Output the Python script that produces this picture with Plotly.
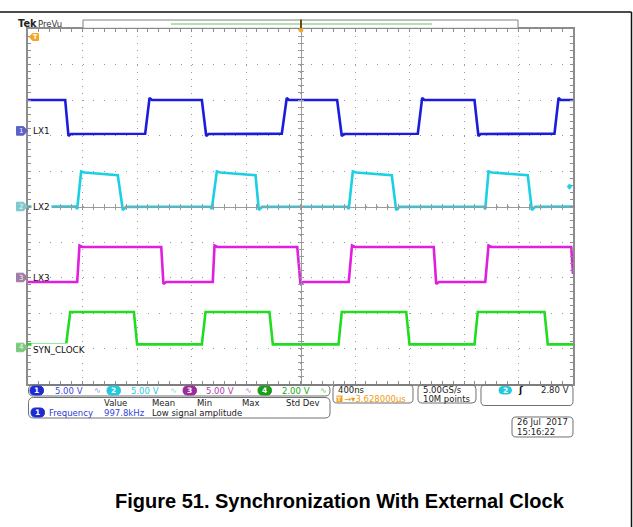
import plotly.graph_objects as go

# ---------------- waveform data ----------------
# time: microseconds relative to the screen centre (400 ns/div, 10 div)
# values: volts at each channel's probe
lx1_t = [-2.000, -1.727, -1.703, -1.685, -1.140, -1.108, -1.090,
         -0.724, -0.692, -0.675, -0.137, -0.101, -0.085,
          0.269,  0.303,  0.320,  0.861,  0.893,  0.910,
          1.277,  1.306,  1.322,  1.864,  1.894,  1.910, 2.000]
lx1_v = [4.35, 4.35, -0.72, -0.44, -0.40, 4.63, 4.35,
         4.35, -0.72, -0.44, -0.40, 4.63, 4.35,
         4.35, -0.72, -0.44, -0.40, 4.63, 4.35,
         4.35, -0.72, -0.44, -0.40, 4.63, 4.35, 4.35]

lx2_t = [-2.000, -1.650, -1.639, -1.610, -1.585, -1.341, -1.304, -1.280,
         -0.662, -0.651, -0.614, -0.589, -0.330, -0.306, -0.282,
          0.343,  0.354,  0.384,  0.409,  0.670,  0.702,  0.726,
          1.345,  1.356,  1.380,  1.405,  1.668,  1.698,  1.722, 2.000]
lx2_v = [0.00, 0.00, -0.35, 4.93, 4.79, 4.40, -0.49, -0.05,
         0.00, -0.35, 4.93, 4.79, 4.40, -0.49, -0.05,
         0.00, -0.35, 4.93, 4.79, 4.40, -0.49, -0.05,
         0.00, -0.35, 4.93, 4.79, 4.40, -0.49, -0.05, 0.00]

lx3_t = [-2.000, -1.639, -1.622, -1.600, -1.022, -1.006, -0.985,
         -0.644, -0.631, -0.610, -0.024,  0.000,  0.020,
          0.354,  0.378,  0.400,  0.978,  0.996,  1.017,
          1.356,  1.380,  1.402,  1.987,  2.000]
lx3_v = [-0.63, -0.63, 4.51, 4.30, 4.30, -0.92, -0.63,
         -0.63, 4.51, 4.30, 4.30, -0.92, -0.63,
         -0.63, 4.51, 4.30, 4.30, -0.92, -0.63,
         -0.63, 4.51, 4.30, 4.30, 0.50]

syn_t = [-2.000, -1.720, -1.690, -1.223, -1.199,
         -0.724, -0.697, -0.228, -0.203,
          0.279,  0.303,  0.776,  0.800,
          1.277,  1.301,  1.791,  1.815, 2.000]
syn_v = [0.17, 0.17, 2.00, 2.00, 0.17,
         0.17, 2.00, 2.00, 0.17,
         0.17, 2.00, 2.00, 0.17,
         0.17, 2.00, 2.00, 0.17, 0.17]

# channel settings
ch_names = ["LX1", "LX2", "LX3", "SYN_CLOCK"]
ch_volts_per_div = [5.0, 5.0, 5.0, 2.0]
ch_position_div = [2.13, 0.0, -2.0, -3.97]
ch_scale_text = ["5.00 V", "5.00 V", "5.00 V", "2.00 V"]
trigger_channel = 2
trigger_level_v = 2.80
time_per_div = "400ns"
trigger_delay = "3.628000µs"
sample_rate = "5.00GS/s"
record_length = "10M points"
meas_headers = ["Value", "Mean", "Min", "Max", "Std Dev"]
meas_name = "Frequency"
meas_value = "997.8kHz"
meas_note = "Low signal amplitude"
date_text = "26 Jul\u00a0 2017"
time_text = "15:16:22"
caption = "Figure 51. Synchronization With External Clock"

# ---------------- styling / geometry ----------------
W, H = 633, 527
GX0, GX1, GY0, GY1 = 28, 573, 29, 384
trace_colors = ["#1c1cdc", "#1ccfe2", "#e01ee0", "#22dc22"]
tag_colors = ["#5b63c8", "#7dc9cc", "#a27ca6", "#7ccb7c"]
pill_colors = ["#1c2bd0", "#22c8dc", "#9c2c9c", "#1c9c1c"]
text_colors = ["#3b48e0", "#2cc8dc", "#b03cb4", "#22a622"]
icon_colors = ["#7b8be0", "#7dd8e4", "#c47cc8", "#66c466"]
frame_col = "#8c8c8c"
grid_col = "#9a9a9a"
FONT = "DejaVu Sans"


def fx(x):
    return x / W


def fy(y):
    return 1 - y / H


def dpx(d):
    return GY0 + (5 - d) / 10 * (GY1 - GY0)


def pth(points):
    s = "M" + " L".join(f"{fx(x):.5f},{fy(y):.5f}" for x, y in points) + " Z"
    return s


def rr(x0, y0, x1, y1, r):
    def p(x, y):
        return f"{fx(x):.5f},{fy(y):.5f}"
    return (f"M{p(x0 + r, y0)} L{p(x1 - r, y0)} Q{p(x1, y0)} {p(x1, y0 + r)} "
            f"L{p(x1, y1 - r)} Q{p(x1, y1)} {p(x1 - r, y1)} L{p(x0 + r, y1)} "
            f"Q{p(x0, y1)} {p(x0, y1 - r)} L{p(x0, y0 + r)} Q{p(x0, y0)} {p(x0 + r, y0)} Z")


shapes = []
annotations = []


def T(x, y, s, color="#222", size=8.5, anchor="left", family=FONT, bg=None, pad=0):
    d = dict(x=fx(x), y=fy(y), xref="paper", yref="paper", text=s, showarrow=False,
             xanchor=anchor, yanchor="middle", font=dict(family=family, size=size, color=color),
             borderpad=pad)
    if bg:
        d["bgcolor"] = bg
    annotations.append(d)


def box(x0, y0, x1, y1, r=4, color="#707070"):
    shapes.append(dict(type="path", xref="paper", yref="paper", path=rr(x0, y0, x1, y1, r),
                       line=dict(color=color, width=1), layer="above"))


def pill(x0, y0, x1, y1, color, label):
    shapes.append(dict(type="path", xref="paper", yref="paper",
                       path=rr(x0, y0, x1, y1, (y1 - y0) / 2),
                       line=dict(color=color, width=1), fillcolor=color, layer="above"))
    T((x0 + x1) / 2, (y0 + y1) / 2, f"<b>{label}</b>", "white", 7.5, "center")


fig = go.Figure()
series = [(lx1_t, lx1_v), (lx2_t, lx2_v), (lx3_t, lx3_v), (syn_t, syn_v)]
for i, (t, v) in enumerate(series):
    fig.add_trace(go.Scatter(
        x=t, y=[ch_position_div[i] + vv / ch_volts_per_div[i] for vv in v],
        mode="lines", line=dict(color=trace_colors[i], width=2.6),
        hoverinfo="skip", showlegend=False))

# helper empty traces so the centre-crosshair overlay axes get drawn
for xa, ya in [("x3", "y"), ("x4", "y"), ("x", "y3"), ("x", "y4")]:
    fig.add_trace(go.Scatter(x=[], y=[], xaxis=xa, yaxis=ya, showlegend=False, hoverinfo="skip"))

# ---- channel tags and labels ----
for i, name in enumerate(ch_names):
    c = dpx(ch_position_div[i])
    shapes.append(dict(type="path", xref="paper", yref="paper",
                       path=pth([(16.5, c - 4.3), (23.5, c - 4.3), (27.5, c), (23.5, c + 4.3), (16.5, c + 4.3)]),
                       fillcolor=tag_colors[i], line=dict(color=tag_colors[i], width=1), layer="above"))
    T(21, c, str(i + 1), "#f4f4ff", 7, "center")
    bg = "white" if name in ("LX2", "SYN_CLOCK") else None
    annotations.append(dict(x=fx(31), y=ch_position_div[i], xref="paper", yref="y", text=name,
                            showarrow=False, xanchor="left", yanchor="middle",
                            yshift=-2.5 if name == "SYN_CLOCK" else 0,
                            font=dict(family=FONT, size=8.8, color="#111"),
                            bgcolor=bg, borderpad=1))

# trigger level marker on right edge
tc = dpx(ch_position_div[trigger_channel - 1] + trigger_level_v / ch_volts_per_div[trigger_channel - 1])
shapes.append(dict(type="path", xref="paper", yref="paper",
                   path=pth([(567.3, tc), (569.5, tc - 2.6), (571.7, tc), (569.5, tc + 2.6)]),
                   fillcolor=trace_colors[1], line=dict(color=trace_colors[1], width=1), layer="above"))

# orange trigger-position tag (top left)
shapes.append(dict(type="path", xref="paper", yref="paper",
                   path=pth([(29.5, 37), (32.5, 33.5), (38.5, 33.5), (38.5, 40.5), (32.5, 40.5)]),
                   fillcolor="#f5a524", line=dict(color="#f5a524", width=1), layer="above"))
T(35.3, 37, "<b>T</b>", "white", 6.5, "center")

# ---- top: Tek PreVu and record bar ----
T(16.5, 24, "<b>Tek</b>", "#222", 9.8)
T(37, 24.3, "PreVu", "#333", 8.5)
shapes.append(dict(type="rect", xref="paper", yref="paper", x0=fx(83), x1=fx(518), y0=fy(20), y1=fy(28.3),
                   line=dict(color="#808080", width=1), fillcolor="white", layer="above"))
shapes.append(dict(type="line", xref="paper", yref="paper", x0=fx(171), x1=fx(432), y0=fy(24), y1=fy(24),
                   line=dict(color="#96d896", width=1.6), layer="above"))
shapes.append(dict(type="line", xref="paper", yref="paper", x0=fx(301), x1=fx(301), y0=fy(19.5), y1=fy(28.5),
                   line=dict(color="#6b4a1a", width=2), layer="above"))
shapes.append(dict(type="circle", xref="paper", yref="paper", x0=fx(298.7), x1=fx(303.3), y0=fy(28), y1=fy(32.6),
                   fillcolor="#f5a524", line=dict(color="#f5a524", width=0), layer="above"))

# outer document frame
shapes.append(dict(type="line", xref="paper", yref="paper", x0=0, x1=fx(631.5), y0=fy(12), y1=fy(12),
                   line=dict(color="#111", width=1.5), layer="above"))
shapes.append(dict(type="line", xref="paper", yref="paper", x0=fx(631.5), x1=fx(631.5), y0=fy(12), y1=0,
                   line=dict(color="#111", width=1.5), layer="above"))

# ---- status bar row 1: channel readouts ----
box(28.5, 385, 330, 396, 5)
pill_x = [30, 107, 183, 258]
txt_x = [54, 130, 205, 281]
icon_x = [97, 173, 248, 323]
for i in range(4):
    pill(pill_x[i], 386, pill_x[i] + 13.5, 395, pill_colors[i], str(i + 1))
    T(txt_x[i], 390.5, ch_scale_text[i], text_colors[i])
    T(icon_x[i], 390.5, "∿", icon_colors[i], 8, "center")

# ---- measurement box ----
box(28.5, 397.5, 330, 418, 5)
for h, hx in zip(meas_headers, [103, 151, 196, 241, 285]):
    T(hx, 402.5, h, "#222")
pill(31, 408, 44.5, 417, pill_colors[0], "1")
T(48, 412.5, meas_name, "#2a3ad8")
T(103, 412.5, meas_value, "#3344dd")
T(151, 412.5, meas_note, "#222")

# ---- horizontal / acquisition / trigger boxes ----
box(333, 385, 413, 403, 4)
T(337, 390, time_per_div, "#222")
shapes.append(dict(type="rect", xref="paper", yref="paper", x0=fx(336.5), x1=fx(342.5), y0=fy(395.5), y1=fy(402),
                   fillcolor="#f5a020", line=dict(color="#f5a020", width=0), layer="above"))
T(339.5, 398.8, "<b>T</b>", "white", 6, "center")
T(343, 399, "→▾" + trigger_delay, "#f09a10")

box(418, 385, 476, 403, 4)
T(422, 390, sample_rate, "#222")
T(422, 399, record_length, "#222")

box(481, 385, 573, 405.5, 4)
pill(499, 386.5, 511.5, 394, pill_colors[1], str(trigger_channel))
T(520, 390, "<b>ʃ</b>", "#111", 9, "center")
T(570, 390, f"{trigger_level_v:.2f} V", "#222", 8.5, "right")

box(512, 417, 573, 437, 4)
T(516, 422, date_text, "#222")
T(516, 432, time_text, "#222")

# ---- caption ----
T(340, 501, f"<b>{caption}</b>", "#000", 20, "center", family="Liberation Sans, Arial, sans-serif")

xmid = (fx(GX0) + fx(GX1)) / 2
ymid = (fy(GY1) + fy(GY0)) / 2

xbase = dict(range=[-2, 2], tick0=0, dtick=0.4, showticklabels=False, zeroline=False, fixedrange=True)
ybase = dict(range=[-5, 5], tick0=0, dtick=1, showticklabels=False, zeroline=False, fixedrange=True)

fig.update_layout(
    width=W, height=H, margin=dict(l=0, r=0, t=0, b=0, pad=0),
    paper_bgcolor="white", plot_bgcolor="white", showlegend=False,
    xaxis=dict(**xbase, domain=[fx(GX0), fx(GX1)], showgrid=True, gridcolor=grid_col, gridwidth=1,
               griddash="1px,6.1px", showline=True, linecolor=frame_col, linewidth=1.5, mirror="allticks",
               ticks="inside", ticklen=3, tickcolor=frame_col, tickwidth=1,
               minor=dict(dtick=0.08, tick0=0, ticks="inside", ticklen=3, tickcolor=frame_col, showgrid=False)),
    yaxis=dict(**ybase, domain=[fy(GY1), fy(GY0)], showgrid=True, gridcolor=grid_col, gridwidth=1,
               griddash="1px,9.9px", showline=True, linecolor=frame_col, linewidth=1.5, mirror="allticks",
               ticks="inside", ticklen=3, tickcolor=frame_col, tickwidth=1,
               minor=dict(dtick=0.2, tick0=0, ticks="inside", ticklen=3, tickcolor=frame_col, showgrid=False)),
    xaxis3=dict(**xbase, overlaying="x", anchor="free", position=ymid, showgrid=False, showline=True,
                linecolor=grid_col, linewidth=1, ticks="inside", ticklen=2.5, tickcolor=grid_col,
                minor=dict(dtick=0.08, tick0=0, ticks="inside", ticklen=2.5, tickcolor=grid_col)),
    xaxis4=dict(**xbase, overlaying="x", anchor="free", position=ymid, showgrid=False, showline=False,
                ticks="outside", ticklen=2.5, tickcolor=grid_col,
                minor=dict(dtick=0.08, tick0=0, ticks="outside", ticklen=2.5, tickcolor=grid_col)),
    yaxis3=dict(**ybase, overlaying="y", anchor="free", position=xmid, showgrid=False, showline=True,
                linecolor=grid_col, linewidth=1, ticks="inside", ticklen=2.5, tickcolor=grid_col,
                minor=dict(dtick=0.2, tick0=0, ticks="inside", ticklen=2.5, tickcolor=grid_col)),
    yaxis4=dict(**ybase, overlaying="y", anchor="free", position=xmid, showgrid=False, showline=False,
                ticks="outside", ticklen=2.5, tickcolor=grid_col,
                minor=dict(dtick=0.2, tick0=0, ticks="outside", ticklen=2.5, tickcolor=grid_col)),
    shapes=shapes, annotations=annotations,
)

fig.write_html("out.html", config={"displayModeBar": False},
               post_script="document.body.style.margin='0';")
